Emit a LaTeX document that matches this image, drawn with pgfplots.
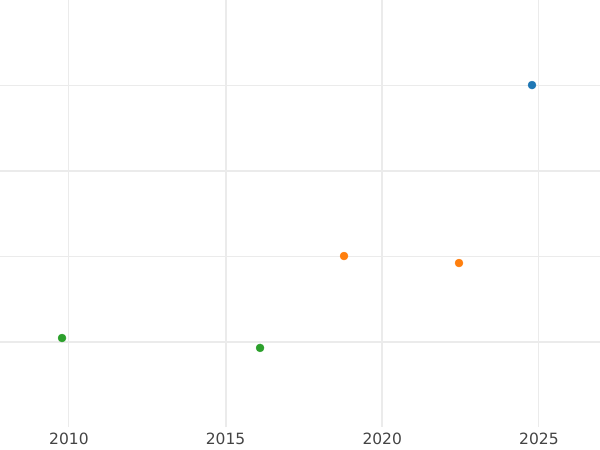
\documentclass[border=0pt]{standalone}
\usepackage{pgfplots}
\pgfplotsset{compat=1.18}
\usepackage{fontspec}
\setmainfont{DejaVu Sans}
\definecolor{tabblue}{HTML}{1F77B4}
\definecolor{taborange}{HTML}{FF7F0E}
\definecolor{tabgreen}{HTML}{2CA02C}
\definecolor{gridc}{HTML}{EBEBEB}
\definecolor{labc}{HTML}{444444}
\begin{document}
\begin{tikzpicture}[x=1pt,y=1pt]
\path[use as bounding box] (0,-23) rectangle (600,427);
\begin{axis}[
  at={(0,0)}, anchor=south west,
  scale only axis, width=600pt, height=427pt,
  xmin=2007.8, xmax=2026.95, ymin=0.5, ymax=3.0,
  axis line style={draw=none},
  xtick={2010,2015,2020,2025},
  ytick={1,1.5,2,2.5}, yticklabels={},
  xticklabel style={font=\fontsize{15.5}{18}\selectfont, text=labc, inner sep=2pt, yshift=-3.5pt},
  xticklabel={\pgfmathprintnumber[1000 sep={}]{\tick}},
  /pgf/number format/assume math mode=true,
  major tick length=0pt,
  xmajorgrids, ymajorgrids,
  major grid style={draw=gridc, line width=1pt},
  clip=false,
]
\draw[gridc, line width=2pt] (axis cs:2015,0.5) -- (axis cs:2015,3.0);
\draw[gridc, line width=2pt] (axis cs:2020,0.5) -- (axis cs:2020,3.0);
\draw[gridc, line width=2pt] (axis cs:2007.8,1) -- (axis cs:2026.95,1);
\draw[gridc, line width=2pt] (axis cs:2007.8,2) -- (axis cs:2026.95,2);
\addplot[only marks, mark=*, mark size=4pt, color=tabblue] coordinates {(2024.78,2.502)};
\addplot[only marks, mark=*, mark size=4pt, color=taborange] coordinates {(2018.78,1.501) (2022.45,1.46)};
\addplot[only marks, mark=*, mark size=4pt, color=tabgreen] coordinates {(2009.78,1.021) (2016.10,0.963)};
\end{axis}
\end{tikzpicture}
\end{document}
